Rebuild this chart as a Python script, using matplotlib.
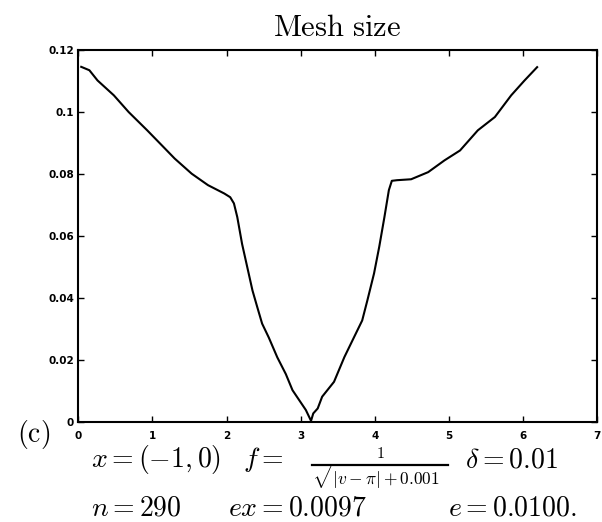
import numpy as np
import matplotlib
matplotlib.use("Agg")
import matplotlib.pyplot as plt
from matplotlib.lines import Line2D

# mesh size h(v) along the interval
v = [0.04, 0.15, 0.26, 0.48, 0.68, 0.93, 1.15, 1.30, 1.53, 1.75,
     1.97, 2.05, 2.10, 2.145, 2.21, 2.28, 2.35, 2.415, 2.48, 2.57,
     2.685, 2.80, 2.89, 2.98, 3.07, 3.14, 3.17, 3.23, 3.29, 3.36,
     3.45, 3.59, 3.72, 3.83, 3.90, 3.99, 4.06, 4.13, 4.19, 4.23,
     4.30, 4.49, 4.72, 4.94, 5.15, 5.39, 5.62, 5.84, 6.02, 6.19]
h = [0.1146, 0.1135, 0.1102, 0.1054, 0.1000, 0.0941, 0.0887, 0.0850, 0.0801, 0.0764,
     0.0737, 0.0725, 0.0705, 0.0661, 0.0574, 0.0499, 0.0424, 0.0370, 0.0317, 0.0272,
     0.0208, 0.0154, 0.0102, 0.0070, 0.0038, 0.0003, 0.0027, 0.0043, 0.0081, 0.0102,
     0.0129, 0.0209, 0.0273, 0.0327, 0.0392, 0.0479, 0.0565, 0.0661, 0.0748, 0.0778,
     0.0780, 0.0783, 0.0806, 0.0844, 0.0876, 0.0941, 0.0984, 0.1054, 0.1102, 0.1145]

xticks = [0, 1, 2, 3, 4, 5, 6, 7]
yticks = [0, 0.02, 0.04, 0.06, 0.08, 0.1, 0.12]
ytick_labels = ['0', '0.02', '0.04', '0.06', '0.08', '0.1', '0.12']

plt.rcParams['mathtext.fontset'] = 'cm'

W, H = 602, 522
fig = plt.figure(figsize=(W / 100, H / 100), dpi=100)
ax = fig.add_axes([0.130, 0.192, 0.862, 0.712])

ax.plot(v, h, color='k', lw=1.5)

ax.set_xlim(0, 7)
ax.set_ylim(0, 0.12)
ax.set_xticks(xticks)
ax.set_yticks(yticks)
ax.set_yticklabels(ytick_labels)
ax.tick_params(direction='in', top=True, right=True, length=4, width=1,
               labelsize=7.5)
ax.tick_params(axis='x', pad=7)
ax.tick_params(axis='y', pad=3)
for lab in ax.get_xticklabels() + ax.get_yticklabels():
    lab.set_fontweight('bold')
for s in ax.spines.values():
    s.set_linewidth(1.5)


def px_text(x, y, s, size, ha='left'):
    # place text by pixel position (origin top-left), baseline aligned
    fig.text(x / W, 1 - y / H, s, fontsize=size, ha=ha, va='baseline')


px_text(337.6, 36.5, r'$\mathrm{Mesh\ size}$', 22, ha='center')
px_text(17, 442, r'$\mathrm{(c)}$', 20)

# first caption line: domain, density and delta
px_text(90.7, 467.5, r'$x=(-1,0)$', 20)
px_text(243, 467.5, r'$f=$', 20)
px_text(380, 458, r'$1$', 11.5, ha='center')
fig.add_artist(Line2D([312 / W, 448 / W], [1 - 464.5 / H, 1 - 464.5 / H],
                      transform=fig.transFigure, color='k', lw=1.6))
px_text(378, 485, r'$\sqrt{|v-\pi|+0.001}$', 12.5, ha='center')
px_text(465, 467.5, r'$\delta=0.01$', 20)

# second caption line: node count and errors
px_text(90.7, 516, r'$n=290$', 20)
px_text(228, 516, r'$ex=0.0097$', 20)
px_text(448, 516, r'$e=0.0100.$', 20)

fig.savefig('out.png', dpi=100)
